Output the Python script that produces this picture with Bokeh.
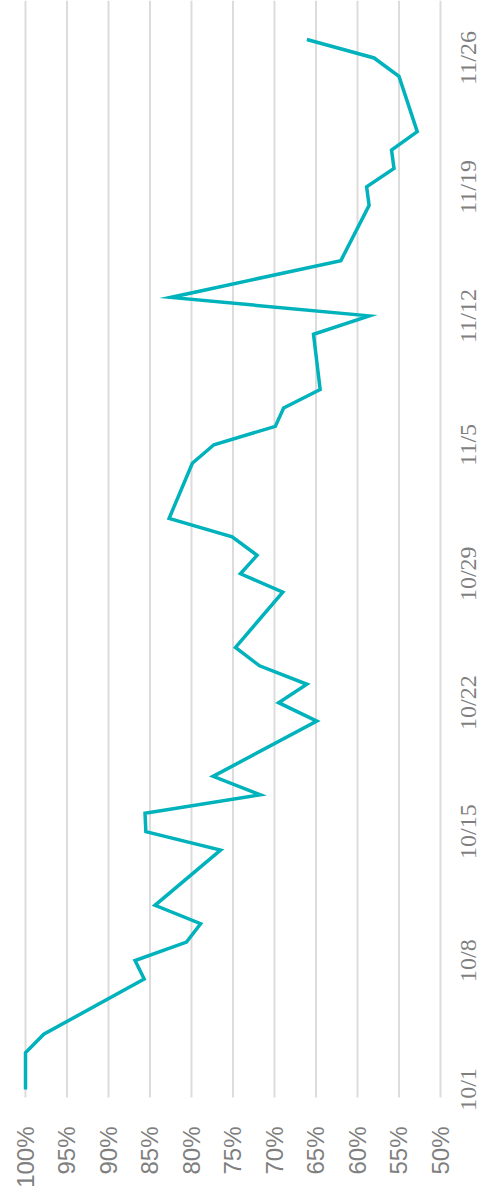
import math
from datetime import date
from bokeh.plotting import figure
from bokeh.models import Range1d, FixedTicker, LabelSet, ColumnDataSource
from bokeh.embed import file_html
from bokeh.resources import INLINE

# ---- data ----
dates = ["10/1", "10/2", "10/3", "10/4", "10/7", "10/8", "10/9", "10/10", "10/11",
         "10/14", "10/15", "10/16", "10/17", "10/18", "10/21", "10/22", "10/23", "10/24", "10/25",
         "10/28", "10/29", "10/30", "10/31", "11/1", "11/4", "11/5", "11/6", "11/7", "11/8",
         "11/11", "11/12", "11/13", "11/15", "11/18", "11/19", "11/20", "11/21", "11/22",
         "11/25", "11/26", "11/27"]
values = [100, 100, 100, 97.8, 85.7, 86.8, 80.6, 78.9, 84.4,
          76.5, 85.5, 85.6, 71.7, 77.4, 64.9, 69.5, 66.1, 71.8, 74.7,
          69.0, 74.1, 72.1, 75.1, 82.7, 79.9, 77.3, 69.9, 68.9, 64.5,
          65.3, 58.6, 82.5, 62.0, 58.6, 58.9, 55.6, 55.9, 52.8,
          55.0, 58.0, 66.1]
date_ticks = ["10/1", "10/8", "10/15", "10/22", "10/29", "11/5", "11/12", "11/19", "11/26"]
pct_ticks = [100, 95, 90, 85, 80, 75, 70, 65, 60, 55, 50]

YEAR = 2019
ORIGIN = date(YEAR, 10, 1)


def day_of(s):
    m, d = s.split("/")
    return (date(YEAR, int(m), int(d)) - ORIGIN).days


days = [day_of(s) for s in dates]
tick_days = [day_of(s) for s in date_ticks]

GRAY = "#7f7f7f"
FONT = "Liberation Sans"
GRID_BOTTOM = -0.434   # lower end of the plotting area (days)
TOP = 59.12

# frame extends right and slightly down so the date labels (drawn in data space) are not clipped
p = figure(frame_width=462, frame_height=1116,
           x_range=Range1d(100.843, 45.18), y_range=Range1d(-1.466, TOP),
           output_backend="svg", toolbar_location=None,
           min_border_left=18, min_border_top=0, min_border_right=0, min_border_bottom=0)
p.outline_line_color = None
p.background_fill_color = "white"
p.border_fill_color = "white"

# vertical gridlines, stopping at the bottom of the plotting area
p.segment(x0=pct_ticks, y0=[GRID_BOTTOM] * len(pct_ticks),
          x1=pct_ticks, y1=[TOP] * len(pct_ticks),
          line_color="#dcdcdc", line_width=2)

p.line(values, days, line_color="#00b2bb", line_width=3.5, line_join="miter")

# percent axis (bottom)
p.xaxis.ticker = FixedTicker(ticks=pct_ticks)
p.xaxis.major_label_overrides = {v: f"{v}%" for v in pct_ticks}
p.xaxis.major_label_orientation = math.pi / 2
p.xaxis.major_label_standoff = 4
p.xaxis.major_label_text_font = FONT
p.xaxis.major_label_text_font_size = "24px"
p.xaxis.major_label_text_color = GRAY
p.xaxis.axis_line_color = None
p.xaxis.major_tick_line_color = None
p.xaxis.minor_tick_line_color = None

# date labels (right side), centred on their dates and reading upward
p.yaxis.visible = False
date_src = ColumnDataSource(data=dict(y=tick_days, text=date_ticks))
p.add_layout(LabelSet(x=46.7, y="y", text="text", source=date_src,
                      angle=math.pi / 2, text_align="center", text_baseline="middle",
                      text_font=FONT, text_font_size="24px", text_color=GRAY))

p.xgrid.visible = False
p.ygrid.visible = False

open("out.html", "w").write(file_html(p, INLINE))
